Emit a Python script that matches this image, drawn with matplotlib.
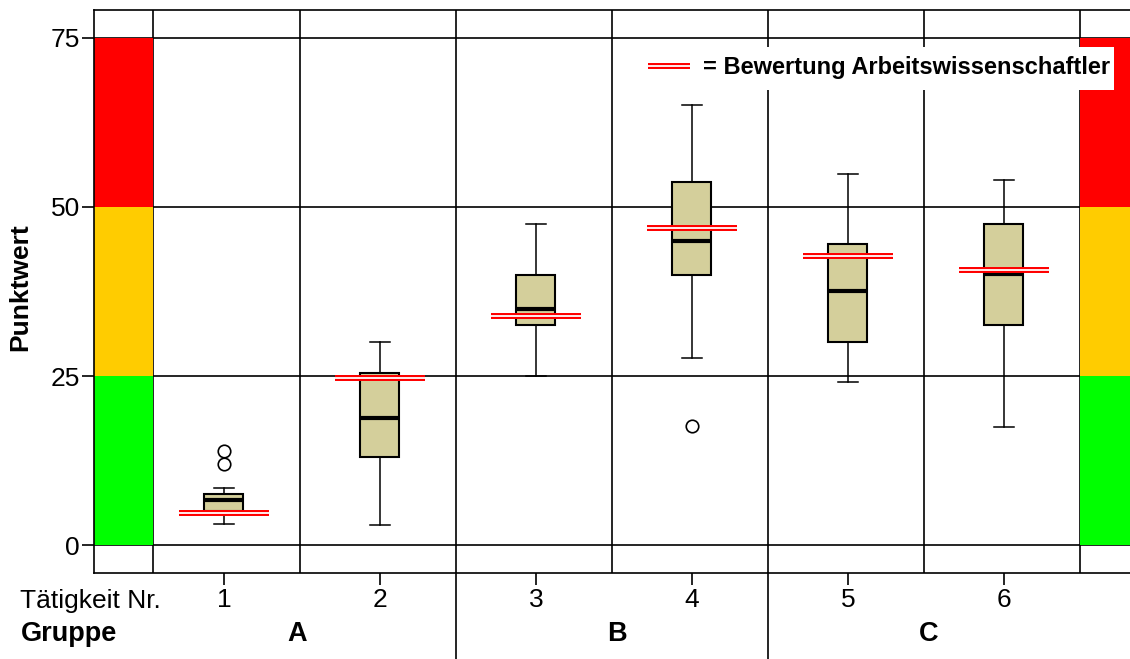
import numpy as np
import matplotlib.pyplot as plt
from matplotlib.transforms import blended_transform_factory

plt.rcParams['font.family'] = ['Liberation Sans', 'DejaVu Sans']

# Werte der Boxplots je Tätigkeit
taetigkeit = [1, 2, 3, 4, 5, 6]
whisker_unten = [3.1, 3.0, 25.0, 27.7, 24.1, 17.5]
quartil_1 = [5.1, 13.0, 32.5, 40.0, 30.0, 32.5]
median = [6.6, 18.8, 34.9, 45.0, 37.6, 40.1]
quartil_3 = [7.6, 25.4, 39.9, 53.7, 44.5, 47.5]
whisker_oben = [8.5, 30.0, 47.5, 65.1, 54.9, 54.0]
ausreisser = [[12.0, 13.9], [], [], [17.6], [], []]

# Bewertung der Arbeitswissenschaftler
bewertung = [4.7, 24.7, 33.9, 46.9, 42.8, 40.7]

# Gruppen und Ampelbereiche
gruppen = ['A', 'B', 'C']
gruppen_pos = [1.47, 3.52, 5.52]
bereiche = [0, 25, 50, 75]
bereich_farben = ['#00ff00', '#ffcc00', '#ff0000']
y_ticks = [0, 25, 50, 75]

fig = plt.figure(figsize=(11.3, 6.59), dpi=100)
ax = fig.add_axes([94 / 1130, 1 - 573 / 659, 1036 / 1130, 563 / 659])

x_min, x_max = 0.1667, 6.808
ax.set_xlim(x_min, x_max)
ax.set_ylim(-4.14, 79.14)

# Gitter
for y in y_ticks:
    ax.axhline(y, color='black', lw=1.2, zorder=0.5)
grid_x = [0.545] + [k + 0.49 for k in range(1, 7)]
for x in grid_x:
    ax.axvline(x, color='black', lw=1.2, zorder=0.5)

# Ampelspalten links und rechts
for i in range(3):
    ax.fill_between([x_min, grid_x[0]], bereiche[i], bereiche[i + 1],
                    color=bereich_farben[i], lw=0, zorder=1)
    ax.fill_between([grid_x[-1], x_max], bereiche[i], bereiche[i + 1],
                    color=bereich_farben[i], lw=0, zorder=1)

# Boxplots
stats = []
for i in range(len(taetigkeit)):
    stats.append({'whislo': whisker_unten[i], 'q1': quartil_1[i],
                  'med': median[i], 'q3': quartil_3[i],
                  'whishi': whisker_oben[i], 'fliers': ausreisser[i]})
ax.bxp(stats, positions=taetigkeit, widths=0.25, capwidths=0.13,
       patch_artist=True, manage_ticks=False, zorder=2,
       boxprops=dict(facecolor='#d4cf9b', edgecolor='black', lw=1.5),
       medianprops=dict(color='black', lw=3),
       whiskerprops=dict(color='black', lw=1.1),
       capprops=dict(color='black', lw=1.1),
       flierprops=dict(marker='o', markersize=9, markerfacecolor='none',
                       markeredgecolor='black', markeredgewidth=1.2))

# Doppellinien für die Bewertung
pos = np.array(taetigkeit)
ax.hlines(bewertung, pos - 0.29, pos + 0.29, colors='red', lw=4.3, zorder=3)
ax.hlines(bewertung, pos - 0.29, pos + 0.29, colors='white', lw=1.3, zorder=3.1)

# Legende
ax.fill_between([3.686, 6.705], 67.3, 73.67, color='white', lw=0, zorder=4)
ax.hlines([70.86], 3.72, 3.99, colors='red', lw=4.3, zorder=5)
ax.hlines([70.86], 3.72, 3.99, colors='white', lw=1.3, zorder=5.1)
ax.text(4.07, 70.6, '= Bewertung Arbeitswissenschaftler', fontsize=17,
        fontweight='bold', va='center', ha='left', zorder=6)

# Achsen
ax.spines['right'].set_visible(False)
for s in ['left', 'bottom', 'top']:
    ax.spines[s].set_linewidth(1.2)
ax.set_yticks(y_ticks)
ax.set_yticklabels([str(v) for v in y_ticks], fontsize=19)
ax.set_xticks(taetigkeit)
ax.set_xticklabels([str(t) for t in taetigkeit], fontsize=19)
ax.tick_params(axis='y', length=9, width=1.2, pad=1)
ax.tick_params(axis='x', length=8.5, width=1.2, pad=2)
ax.set_ylabel('Punktwert', fontsize=19, fontweight='bold')
ax.yaxis.set_label_coords(-0.06, 0.507)

# Beschriftung unter der Achse
fig.text(20 / 1130, 1 - 608 / 659, 'Tätigkeit Nr.', fontsize=19,
         ha='left', va='baseline')
fig.text(21 / 1130, 1 - 641 / 659, 'Gruppe', fontsize=19.5,
         fontweight='bold', ha='left', va='baseline')
trans = blended_transform_factory(ax.transData, fig.transFigure)
for g, gx in zip(gruppen, gruppen_pos):
    ax.text(gx, 1 - 641 / 659, g, fontsize=19.5, fontweight='bold',
            ha='center', va='baseline', transform=trans)
for x in [grid_x[2], grid_x[4]]:
    ax.plot([x, x], [0, 1 - 573 / 659], color='black', lw=1.2,
            transform=trans, clip_on=False)

fig.savefig('out.png', dpi=100)
